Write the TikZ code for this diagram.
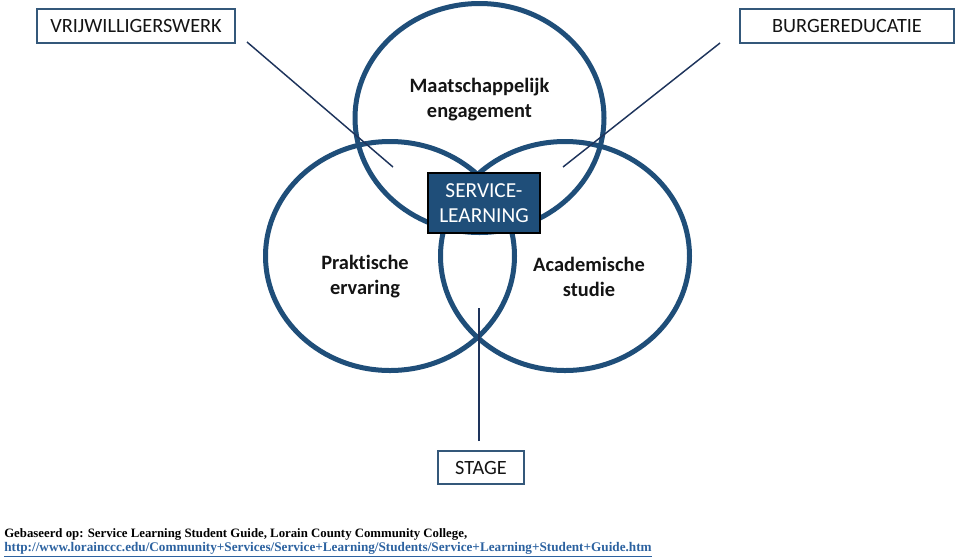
\documentclass[tikz,border=0pt]{standalone}
\usepackage{fontspec}
\setmainfont{Carlito}[Ligatures=NoCommon]
\newfontfamily\notefont{Liberation Serif}
\usetikzlibrary{shapes.geometric}

\definecolor{circblue}{RGB}{31,78,121}
\definecolor{boxedge}{RGB}{52,88,122}
\definecolor{leaderline}{RGB}{30,52,92}
\definecolor{labeltext}{RGB}{20,20,20}
\definecolor{urlblue}{RGB}{44,98,160}

\tikzset{
  ring/.style={ellipse, draw=circblue, line width=3.75pt, inner sep=0pt,
    minimum width=186.75pt, minimum height=171.75pt},
  labelbox/.style={draw=boxedge, line width=1.3pt, fill=white, inner sep=0pt,
    font=\fontsize{15.2}{18}\selectfont, text=labeltext},
  corebox/.style={draw=black, line width=1.1pt, fill=circblue, inner sep=0pt,
    align=center, text=white, font=\fontsize{16}{18.75}\selectfont},
  ringlabel/.style={align=center, text=labeltext, inner sep=0pt,
    font=\bfseries\fontsize{15.3}{18.75}\selectfont},
  leader/.style={draw=leaderline, line width=1.1pt},
  note/.style={anchor=base west, inner sep=0pt, font=\notefont\bfseries\fontsize{9.6}{11}\selectfont}
}

\begin{document}
\begin{tikzpicture}[x=0.75pt,y=0.75pt,yscale=-1,xscale=1]
\useasboundingbox (0,0) rectangle (960,558);

% Rings
\node [ring] (engage) at (479.5,118) {};
\node [ring] (praktijk) at (390,256) {};
\node [ring] (studie) at (565,256) {};

% Ring labels
\node [ringlabel] (engagetxt) at (479.5,100) {Maatschappelijk\\engagement};
\node [ringlabel] (praktijktxt) at (365,277) {Praktische\\ervaring};
\node [ringlabel] (studietxt) at (589,277) {Academische\\studie};

% Outer boxes
\node [labelbox, minimum width=148.5pt, minimum height=25.5pt] (vrij) at (136,26) {VRIJWILLIGERSWERK};
\node [labelbox, minimum width=160.5pt, minimum height=25.5pt] (burger) at (847,26) {BURGEREDUCATIE};
\node [labelbox, minimum width=64.5pt, minimum height=24.75pt] (stage) at (481,467.5) {STAGE};

% Leader lines
\coordinate (vrijfrom) at (247,42);
\coordinate (vrijto) at (393,167);
\coordinate (burgerfrom) at (720,43);
\coordinate (burgerto) at (563,167);
\coordinate (stagefrom) at (479,441);
\coordinate (stageto) at (479,308);
\draw [leader] (vrijfrom) -- (vrijto);
\draw [leader] (burgerfrom) -- (burgerto);
\draw [leader] (stagefrom) -- (stageto);

% Centre box
\node [corebox, minimum width=84pt, minimum height=45pt] (service) at (484,203) {SERVICE-\\LEARNING};

% Source note
\node [note] (source) at (4,537) {Gebaseerd op: Service Learning Student Guide, Lorain County Community College,};
\node [note, text=urlblue, font=\notefont\bfseries\fontsize{9.9}{11}\selectfont] (url) at (4,551) {\underline{http://www.lorainccc.edu/Community+Services/Service+Learning/Students/Service+Learning+Student+Guide.htm}};

\end{tikzpicture}
\end{document}
